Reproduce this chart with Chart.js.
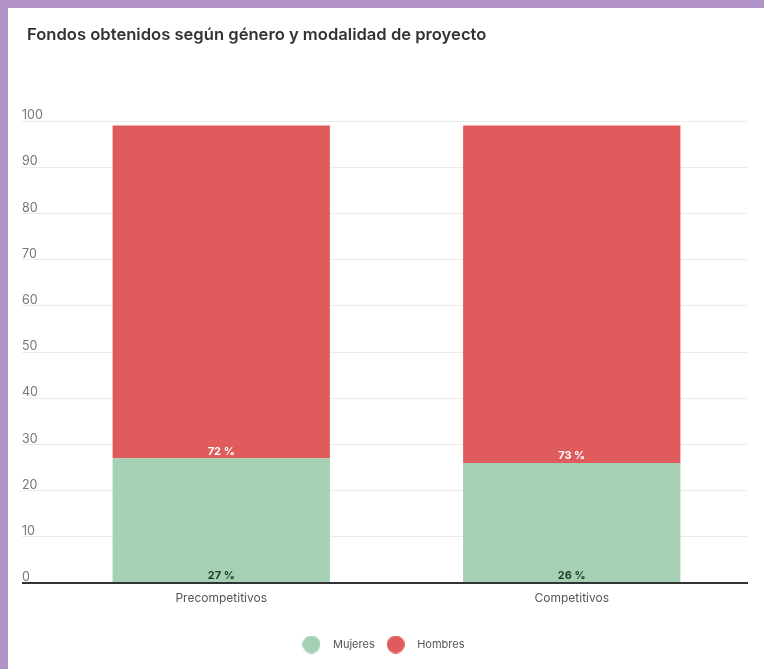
<!DOCTYPE html>
<html>
<head>
<meta charset="utf-8">
<script src="https://cdn.jsdelivr.net/npm/chart.js@4/dist/chart.umd.min.js"></script>
<style>
  html, body { margin: 0; padding: 0; width: 764px; height: 669px; overflow: hidden; background: #b293c7; }
  #panel { position: absolute; left: 8px; top: 8px; width: 756px; height: 661px; background: #ffffff; }
  canvas { display: block; }
</style>
</head>
<body>
<div id="panel"><canvas id="chart" width="756" height="661"></canvas></div>
<script>
// Chart content
const titleText = 'Fondos obtenidos según género y modalidad de proyecto';
const categories = ['Precompetitivos', 'Competitivos'];
const seriesNames = ['Mujeres', 'Hombres'];
const mujeres = [27, 26];
const hombres = [72, 73];
const yTicks = [0, 10, 20, 30, 40, 50, 60, 70, 80, 90, 100];

// Styling
const FONT = 'Inter';
const GREEN = '#a6d0b4';
const RED = '#e05c5c';

// Solid round legend markers
function dot(color, d) {
  const c = document.createElement('canvas');
  c.width = d; c.height = d;
  const g = c.getContext('2d');
  g.fillStyle = color;
  g.beginPath();
  g.arc(d / 2, d / 2, d / 2, 0, Math.PI * 2);
  g.fill();
  return c;
}
const legendDots = [dot(GREEN, 18), dot(RED, 18)];

// Percentage labels drawn at the bottom of each stacked segment
const segmentLabels = {
  id: 'segmentLabels',
  afterLayout(chart) {
    // nudge the legend row a little left of centre
    chart.legend.left -= 7;
    chart.legend.right -= 7;
  },
  afterDatasetsDraw(chart) {
    const ctx = chart.ctx;
    chart.data.datasets.forEach((ds, di) => {
      const meta = chart.getDatasetMeta(di);
      if (meta.hidden) return;
      meta.data.forEach((bar, i) => {
        ctx.save();
        ctx.font = 'bold 11px ' + FONT;
        ctx.fillStyle = ds.labelColor;
        ctx.textAlign = 'center';
        ctx.textBaseline = 'alphabetic';
        ctx.fillText(ds.data[i] + ' %', bar.x, bar.base - 3.5);
        ctx.restore();
      });
    });
  }
};

new Chart(document.getElementById('chart'), {
  type: 'bar',
  data: {
    labels: categories,
    datasets: [
      { label: seriesNames[0], data: mujeres, backgroundColor: GREEN, labelColor: '#1f3a2a' },
      { label: seriesNames[1], data: hombres, backgroundColor: RED, labelColor: '#ffffff' }
    ]
  },
  options: {
    responsive: false,
    animation: false,
    devicePixelRatio: 1,
    layout: { padding: { left: 19, right: 17, top: 0, bottom: 9 } },
    datasets: {
      bar: { barPercentage: 0.62, categoryPercentage: 1, borderWidth: 0 }
    },
    plugins: {
      title: {
        display: true,
        text: titleText,
        align: 'start',
        color: '#333333',
        font: { family: FONT, size: 16.6, weight: '600', lineHeight: 19.2 / 16.6 },
        padding: { top: 17, bottom: 76.8 }
      },
      legend: {
        position: 'bottom',
        labels: {
          usePointStyle: true,
          pointStyleWidth: 32,
          padding: 5,
          color: '#555555',
          font: { family: FONT, size: 11 },
          generateLabels(chart) {
            const items = Chart.defaults.plugins.legend.labels.generateLabels(chart);
            items.forEach((it, i) => { it.pointStyle = legendDots[i]; });
            return items;
          }
        }
      },
      tooltip: { enabled: false }
    },
    scales: {
      x: {
        stacked: true,
        z: 1,
        grid: { display: false, drawTicks: false },
        border: { display: true, color: '#333333', width: 2 },
        ticks: { color: '#555555', font: { family: FONT, size: 12 }, padding: 8 },
        afterFit(scale) { scale.height = 51; }
      },
      y: {
        stacked: true,
        min: 0,
        max: 100,
        afterBuildTicks(scale) { scale.ticks = yTicks.map(v => ({ value: v })); },
        grid: {
          color: c => (c.tick && c.tick.value === 0 ? '#333333' : '#ebebeb'),
          lineWidth: c => (c.tick && c.tick.value === 0 ? 2 : 1),
          tickLength: 24,
          drawTicks: true
        },
        border: { display: false },
        ticks: {
          mirror: true,
          padding: -24,
          labelOffset: -5.5,
          color: '#777777',
          font: { family: FONT, size: 12.5 },
          callback: v => String(v)
        },
        afterFit(scale) { scale.width = 19; }
      }
    }
  },
  plugins: [segmentLabels]
});
</script>
</body>
</html>
